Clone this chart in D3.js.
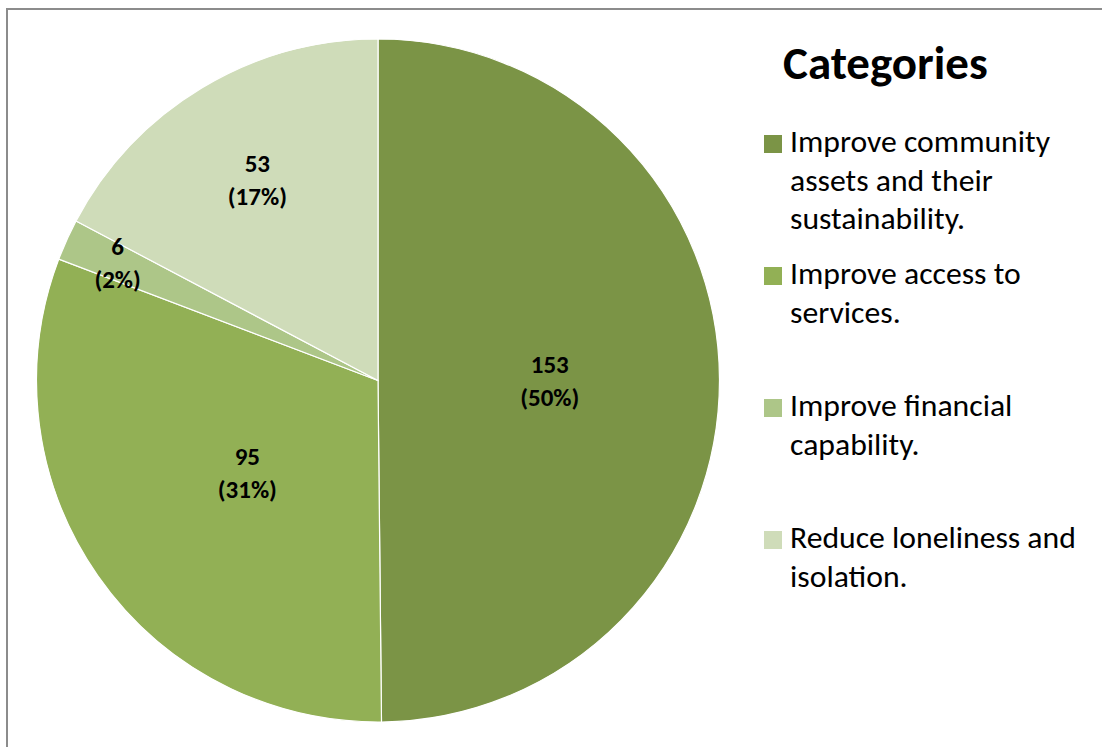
<!DOCTYPE html>
<html>
<head>
<meta charset="utf-8">
<script src="https://cdn.jsdelivr.net/npm/d3@7"></script>
<style>
  html, body { margin: 0; padding: 0; background: #fff; }
  svg { display: block; font-family: Calibri, Carlito, Lato, sans-serif; }
</style>
</head>
<body>
<script>
// data
const categories = [
  ["Improve community", "assets and their", "sustainability."],
  ["Improve access to", "services."],
  ["Improve financial", "capability."],
  ["Reduce loneliness and", "isolation."]
];
const values = [153, 95, 6, 53];
const percents = ["50%", "31%", "2%", "17%"];
const colors = ["#7b9446", "#92b055", "#adc688", "#cfdcb9"];
// how far out each label sits (share of radius)
const labelRadius = [0.5, 0.47, 0.84, 0.69];

const W = 1102, H = 747;
const svg = d3.select("body").append("svg").attr("width", W).attr("height", H);

// chart border (only top/left visible in the crop)
svg.append("rect")
  .attr("x", 7).attr("y", 9).attr("width", W + 20).attr("height", H + 20)
  .attr("fill", "none").attr("stroke", "#8c8c8c").attr("stroke-width", 2);

const cx = 378, cy = 380.5, r = 341.5;
const g = svg.append("g").attr("transform", `translate(${cx},${cy})`);

const pie = d3.pie().sort(null).value(d => d);
const arcs = pie(values);
const arc = d3.arc().innerRadius(0).outerRadius(r);

g.selectAll("path.slice")
  .data(arcs)
  .enter()
  .append("path")
  .attr("class", "slice")
  .attr("d", arc)
  .attr("fill", (d, i) => colors[i])
  .attr("stroke", "#fff")
  .attr("stroke-width", 1.2);

const labels = g.selectAll("text.lbl")
  .data(arcs)
  .enter()
  .append("text")
  .attr("class", "lbl")
  .attr("text-anchor", "middle")
  .attr("font-weight", "bold")
  .attr("font-size", 25)
  .attr("fill", "#000")
  .attr("transform", (d, i) => {
    const a = (d.startAngle + d.endAngle) / 2;
    const rr = r * labelRadius[i];
    return `translate(${Math.sin(a) * rr + 1},${-Math.cos(a) * rr})`;
  });
labels.append("tspan").attr("x", 0).attr("y", -7).text(d => d.value);
labels.append("tspan").attr("x", 0).attr("y", 26).text((d, i) => "(" + percents[i] + ")");

// legend
svg.append("text")
  .attr("x", 783).attr("y", 79)
  .attr("font-size", 47).attr("font-weight", "bold")
  .text("Categories");

const legendTop = [135, 267, 399, 531];
const leg = svg.selectAll("g.leg")
  .data(categories)
  .enter()
  .append("g")
  .attr("class", "leg")
  .attr("transform", (d, i) => `translate(764,${legendTop[i]})`);

leg.append("rect")
  .attr("width", 18).attr("height", 18)
  .attr("fill", (d, i) => colors[i]);

leg.each(function(lines) {
  const t = d3.select(this).append("text")
    .attr("font-size", 31.7).attr("fill", "#000");
  lines.forEach((s, k) => {
    t.append("tspan").attr("x", 26).attr("y", 17 + k * 38.5).text(s);
  });
});
</script>
</body>
</html>
